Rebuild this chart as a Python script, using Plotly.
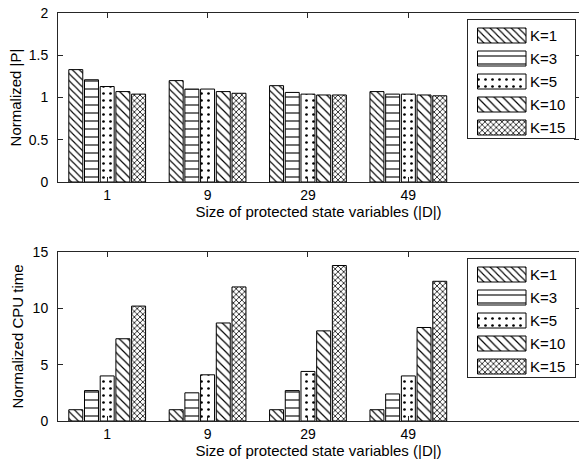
import plotly.graph_objects as go

# ---------------- data ----------------
sizes = ["1", "9", "29", "49"]
series_names = ["K=1", "K=3", "K=5", "K=10", "K=15"]

p_k1 = [1.33, 1.20, 1.14, 1.07]
p_k3 = [1.21, 1.10, 1.06, 1.04]
p_k5 = [1.13, 1.10, 1.04, 1.04]
p_k10 = [1.07, 1.07, 1.03, 1.03]
p_k15 = [1.04, 1.05, 1.03, 1.02]

cpu_k1 = [1.0, 1.0, 1.0, 1.0]
cpu_k3 = [2.7, 2.5, 2.7, 2.4]
cpu_k5 = [4.0, 4.1, 4.4, 4.0]
cpu_k10 = [7.3, 8.7, 8.0, 8.3]
cpu_k15 = [10.2, 11.9, 13.8, 12.4]

y_top_ticks = [0, 0.5, 1, 1.5, 2]
y_bot_ticks = [0, 5, 10, 15]

top_series = [p_k1, p_k3, p_k5, p_k10, p_k15]
bot_series = [cpu_k1, cpu_k3, cpu_k5, cpu_k10, cpu_k15]

# ---------------- styles ----------------
patterns = [
    dict(shape="\\", size=5, solidity=0.22),
    dict(shape="-", size=8, solidity=0.14),
    dict(shape=".", size=7, solidity=0.12),
    dict(shape="\\", size=6, solidity=0.2),
    dict(shape="x", size=4, solidity=0.35),
]

W, H = 579, 464
ML, MR, MT, MB = 58, 0, 13, 43
PW, PH = W - ML - MR, H - MT - MB
FONT = "Liberation Sans, Arial, Helvetica, sans-serif"
FS = 15
TFS = 14
AX = "#262626"


def yfrac(px):
    return (H - MB - px) / PH


def xfrac(px):
    return (px - ML) / PW


fig = go.Figure()


def pat(i):
    d = dict(patterns[i])
    d.update(fgcolor="black", bgcolor="white", fillmode="replace")
    return d


for xa, ya, data in (("x", "y", top_series), ("x2", "y2", bot_series)):
    for i, (name, vals) in enumerate(zip(series_names, data)):
        fig.add_trace(go.Bar(
            x=sizes, y=vals, name=name, xaxis=xa, yaxis=ya, showlegend=False,
            marker=dict(color="white", line=dict(color="black", width=1), pattern=pat(i)),
        ))

# custom MATLAB-style legends (wide swatches)
LEG_W, LEG_H = 107, 118
SW_X0, SW_LEN, SW_H = 9.5, 48.5, 15
ROW0, ROW_PITCH = 15.5, 23
LABEL_X = 60
for xa, ya in (("x3", "y3"), ("x4", "y4")):
    for i, name in enumerate(series_names):
        yc = ROW0 + ROW_PITCH * i
        fig.add_trace(go.Bar(
            orientation="h", y=[yc], x=[SW_LEN], base=[SW_X0], width=[SW_H], offset=-SW_H / 2,
            xaxis=xa, yaxis=ya, showlegend=False, hoverinfo="skip",
            marker=dict(color="white", line=dict(color="black", width=1), pattern=pat(i)),
        ))
        fig.add_annotation(x=LABEL_X, y=yc, xref=xa, yref=ya, text=name, showarrow=False,
                           xanchor="left", yanchor="middle", font=dict(family=FONT, size=FS, color="black"))

common_ax = dict(showline=True, linecolor=AX, linewidth=1, mirror="ticks", ticks="inside",
                 ticklen=5, tickcolor=AX, showgrid=False, zeroline=False, automargin=False,
                 tickfont=dict(family=FONT, size=TFS, color="black"))

xtitle = dict(text="Size of protected state variables (|D|)", font=dict(family=FONT, size=FS, color="black"), standoff=2)

leg_ax = dict(showline=True, linecolor=AX, linewidth=1, mirror=True, ticks="", showticklabels=False,
              showgrid=False, zeroline=False, fixedrange=True, automargin=False)

fig.update_layout(
    width=W, height=H,
    margin=dict(l=ML, r=MR, t=MT, b=MB, autoexpand=False),
    paper_bgcolor="white", plot_bgcolor="white",
    barmode="group", bargap=0.218, bargroupgap=0.11,
    font=dict(family=FONT, size=FS, color="black"),
    showlegend=False,
    xaxis=dict(common_ax, domain=[0, 1], anchor="y", type="category", categoryorder="array",
               categoryarray=sizes, range=[-0.49, 4.7], title=xtitle),
    yaxis=dict(common_ax, domain=[yfrac(182), 1], anchor="x", range=[0, 2], tickvals=y_top_ticks,
               ticklabelstandoff=6,
               title=dict(text="Normalized |P|", font=dict(family=FONT, size=FS, color="black"), standoff=3)),
    xaxis2=dict(common_ax, domain=[0, 1], anchor="y2", type="category", categoryorder="array",
                categoryarray=sizes, range=[-0.49, 4.7], title=xtitle),
    yaxis2=dict(common_ax, domain=[0, yfrac(252)], anchor="x2", range=[0, 15], tickvals=y_bot_ticks,
                ticklabelstandoff=6,
                title=dict(text="Normalized CPU time", font=dict(family=FONT, size=FS, color="black"), standoff=5)),
    xaxis3=dict(leg_ax, domain=[xfrac(468), xfrac(575)], anchor="y3", range=[0, LEG_W]),
    yaxis3=dict(leg_ax, domain=[yfrac(20 + LEG_H), yfrac(20)], anchor="x3", range=[LEG_H, 0]),
    xaxis4=dict(leg_ax, domain=[xfrac(468), xfrac(575)], anchor="y4", range=[0, LEG_W]),
    yaxis4=dict(leg_ax, domain=[yfrac(259 + LEG_H), yfrac(259)], anchor="x4", range=[LEG_H, 0]),
)

fig.write_html(
    "out.html",
    config={"displayModeBar": False},
    post_script="document.body.style.margin='0';document.body.style.overflow='hidden';",
)
